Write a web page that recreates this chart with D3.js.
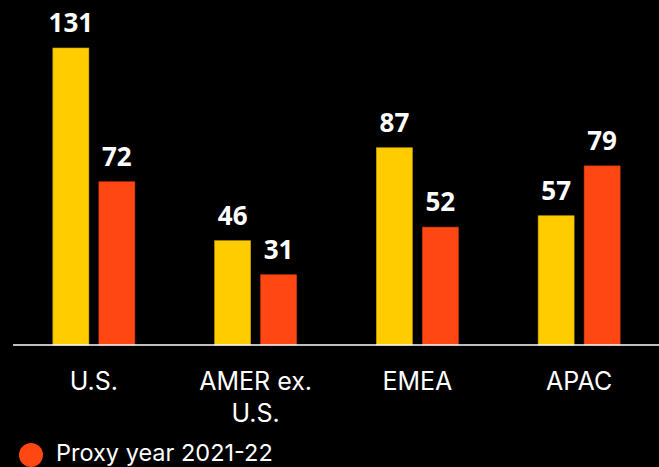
<!DOCTYPE html>
<html>
<head>
<meta charset="utf-8">
<script src="https://cdn.jsdelivr.net/npm/d3@7"></script>
<style>
  html, body { margin: 0; padding: 0; background: #000; }
  svg { display: block; }
</style>
</head>
<body>
<svg id="chart" width="659" height="467"></svg>
<script>
// Regions shown along the x axis (second line after "|")
const regions = ["U.S.", "AMER ex.|U.S.", "EMEA", "APAC"];
// Counts per region for each proxy year
const seriesRecent = [131, 46, 87, 57];
const seriesPrior = [72, 31, 52, 79];
// Legend entry that fits on the page
const legendLabels = ["Proxy year 2021-22"];

const W = 659, H = 467;
const colors = { recent: "#FFCC00", prior: "#FF4713" };
const svg = d3.select("#chart");

svg.append("rect").attr("width", W).attr("height", H).attr("fill", "#000");

const x = d3.scaleBand().domain(regions).range([13, 660]).padding(0);
const y = d3.scaleLinear().domain([0, 131]).range([345, 48]);

const barW = 36, gap = 10;
const rows = regions.map((r, i) => ({ region: r, recent: seriesRecent[i], prior: seriesPrior[i] }));

const groups = svg.selectAll("g.grp").data(rows).join("g")
  .attr("class", "grp")
  .attr("transform", d => `translate(${x(d.region) + x.bandwidth() / 2},0)`);

const bars = [
  { key: "recent", dx: -gap / 2 - barW },
  { key: "prior", dx: gap / 2 }
];

bars.forEach(b => {
  groups.append("rect")
    .attr("x", b.dx)
    .attr("y", d => y(d[b.key]))
    .attr("width", barW)
    .attr("height", d => y(0) - y(d[b.key]))
    .attr("fill", colors[b.key])
    .attr("stroke", d3.color(colors[b.key]).darker(0.6))
    .attr("stroke-width", 0.6);

  groups.append("text")
    .attr("x", b.dx + barW / 2)
    .attr("y", d => y(d[b.key]) - 16)
    .attr("text-anchor", "middle")
    .attr("fill", "#fff")
    .attr("font-family", "'Open Sans', Inter, sans-serif")
    .attr("font-weight", 700)
    .attr("font-size", 26)
    .text(d => d[b.key]);
});

// Baseline
svg.append("line")
  .attr("x1", 13).attr("x2", W)
  .attr("y1", 345).attr("y2", 345)
  .attr("stroke", "#fff").attr("stroke-width", 1.5);

// Category labels
const xAxis = svg.append("g");
rows.forEach(d => {
  const lines = d.region.split("|");
  const t = xAxis.append("text")
    .attr("x", x(d.region) + x.bandwidth() / 2)
    .attr("y", 390)
    .attr("text-anchor", "middle")
    .attr("fill", "#fff")
    .attr("font-family", "Inter, Roboto, sans-serif")
    .attr("font-size", 25);
  lines.forEach((ln, k) => {
    t.append("tspan")
      .attr("x", x(d.region) + x.bandwidth() / 2)
      .attr("dy", k === 0 ? 0 : 32)
      .text(ln);
  });
});

// Legend
const lg = svg.append("g").attr("transform", "translate(31,455)");
legendLabels.forEach((lab, i) => {
  lg.append("circle").attr("cx", 0).attr("cy", i * 36).attr("r", 12).attr("fill", colors.prior);
  lg.append("text")
    .attr("x", 25).attr("y", i * 36 + 6)
    .attr("fill", "#fff")
    .attr("font-family", "Inter, Roboto, sans-serif")
    .attr("font-size", 23.5)
    .text(lab);
});
</script>
</body>
</html>
